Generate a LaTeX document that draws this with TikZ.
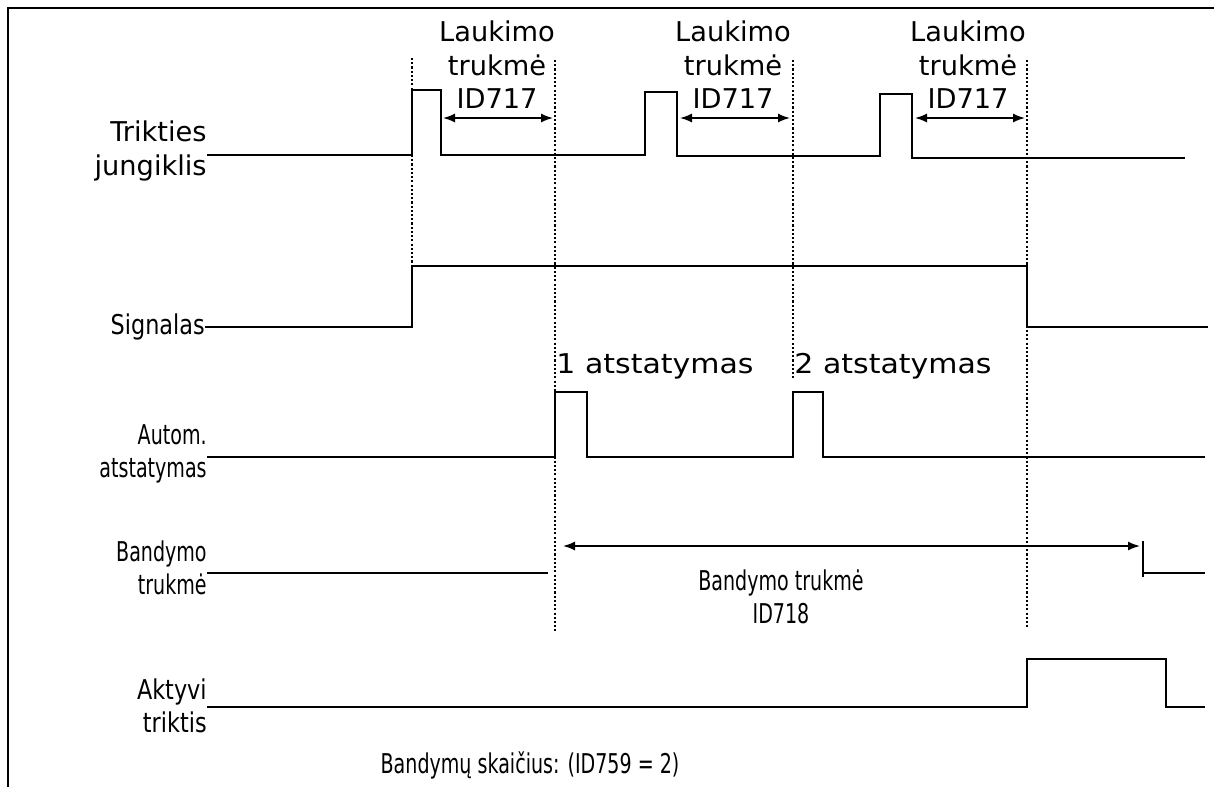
\documentclass[tikz,border=0pt]{standalone}
\usepackage{fontspec}
\setmainfont{DejaVu Sans}
\newfontfamily\narrowfont[FakeStretch=0.7]{DejaVu Sans}
\newfontfamily\semifont[FakeStretch=0.82]{DejaVu Sans}
\newfontfamily\widefont[FakeStretch=1.1]{DejaVu Sans}
\usetikzlibrary{arrows.meta,positioning}

\begin{document}
\begin{tikzpicture}[x=0.2mm, y=-0.2mm, >={Latex[length=2.4mm,width=1.8mm]},
  every node/.style={font=\fontsize{15.5}{19}\selectfont, inner sep=0pt},
  wave/.style={line width=0.9pt},
  guide/.style={line width=0.7pt, dash pattern=on 1.2pt off 1.2pt},
  dim/.style={<->, line width=0.9pt},
  rowlbl/.style={anchor=east, align=right},
  narrow/.style={font=\fontsize{15.5}{19}\selectfont\narrowfont},
  semi/.style={font=\fontsize{15.5}{19}\selectfont\semifont},
  wide/.style={font=\fontsize{15.5}{19}\selectfont\widefont},
  waitlbl/.style={align=center}]
\useasboundingbox (0,0) rectangle (1214,787);
\draw[line width=1pt] (8,787) |- (1214,8);

% row labels
\node[rowlbl] (trip) at (207,151) {Trikties\\jungiklis};
\node[rowlbl, semi] (sig) at (205,327) {Signalas};
\node[rowlbl, narrow] (autom) at (207,454) {Autom.\\atstatymas};
\node[rowlbl, narrow] (trial) at (207,568) {Bandymo\\trukmė};
\node[rowlbl, semi] (fault) at (207,706) {Aktyvi\\triktis};

% guide lines
\coordinate (g1) at (412,58);
\coordinate (g2) at (555,60);
\coordinate (g3) at (793,60);
\coordinate (g4) at (1027,60);
\draw[guide] (g1) -- (412,266);
\draw[guide] (g2) -- (555,632);
\draw[guide] (g3) -- (793,380);
\draw[guide] (g4) -- (1027,627);

% waveforms
\draw[wave] (trip.east |- 0,155) -- (412,155) -- (412,90) -- (441,90) -- (441,155)
  -- (645,155) -- (645,92) -- (677,92) -- (677,156) -- (880,156) -- (880,94)
  -- (912,94) -- (912,158) -- (1185,158);
\draw[wave] (sig.east) -- (412,327) -- (412,266) -- (1027,266) -- (1027,327) -- (1208,327);
\draw[wave] (autom.east |- 0,457) -- (555,457) -- (555,392) -- (587,392) -- (587,457)
  -- (793,457) -- (793,392) -- (823,392) -- (823,457) -- (1205,457);
\draw[wave] (trial.east |- 0,573) -- (548,573);
\draw[wave] (1143,541) -- (1143,577) (1143,573) -- (1205,573);
\draw[wave] (fault.east |- 0,707) -- (1027,707) -- (1027,659) -- (1166,659) -- (1166,707) -- (1205,707);

% wait times
\node[waitlbl] (wait1) at (497,65) {Laukimo\\trukmė\\ID717};
\node[waitlbl] (wait2) at (733,65) {Laukimo\\trukmė\\ID717};
\node[waitlbl] (wait3) at (968,65) {Laukimo\\trukmė\\ID717};
\draw[dim] (443,118) -- (553,118);
\draw[dim] (680,118) -- (790,118);
\draw[dim] (915,118) -- (1025,118);

% resets
\node[wide] (reset1) at (655,366) {1 atstatymas};
\node[wide] (reset2) at (893,366) {2 atstatymas};

% trial time
\coordinate (tstart) at (563,546);
\coordinate (tend) at (1140,546);
\draw[dim] (tstart) -- (tend);
\node[waitlbl, narrow] (trialtime) at (781,597) {Bandymo trukmė\\ID718};

\node[narrow] (count) at (530,765) {Bandymų skaičius: (ID759 = 2)};
\end{tikzpicture}
\end{document}
